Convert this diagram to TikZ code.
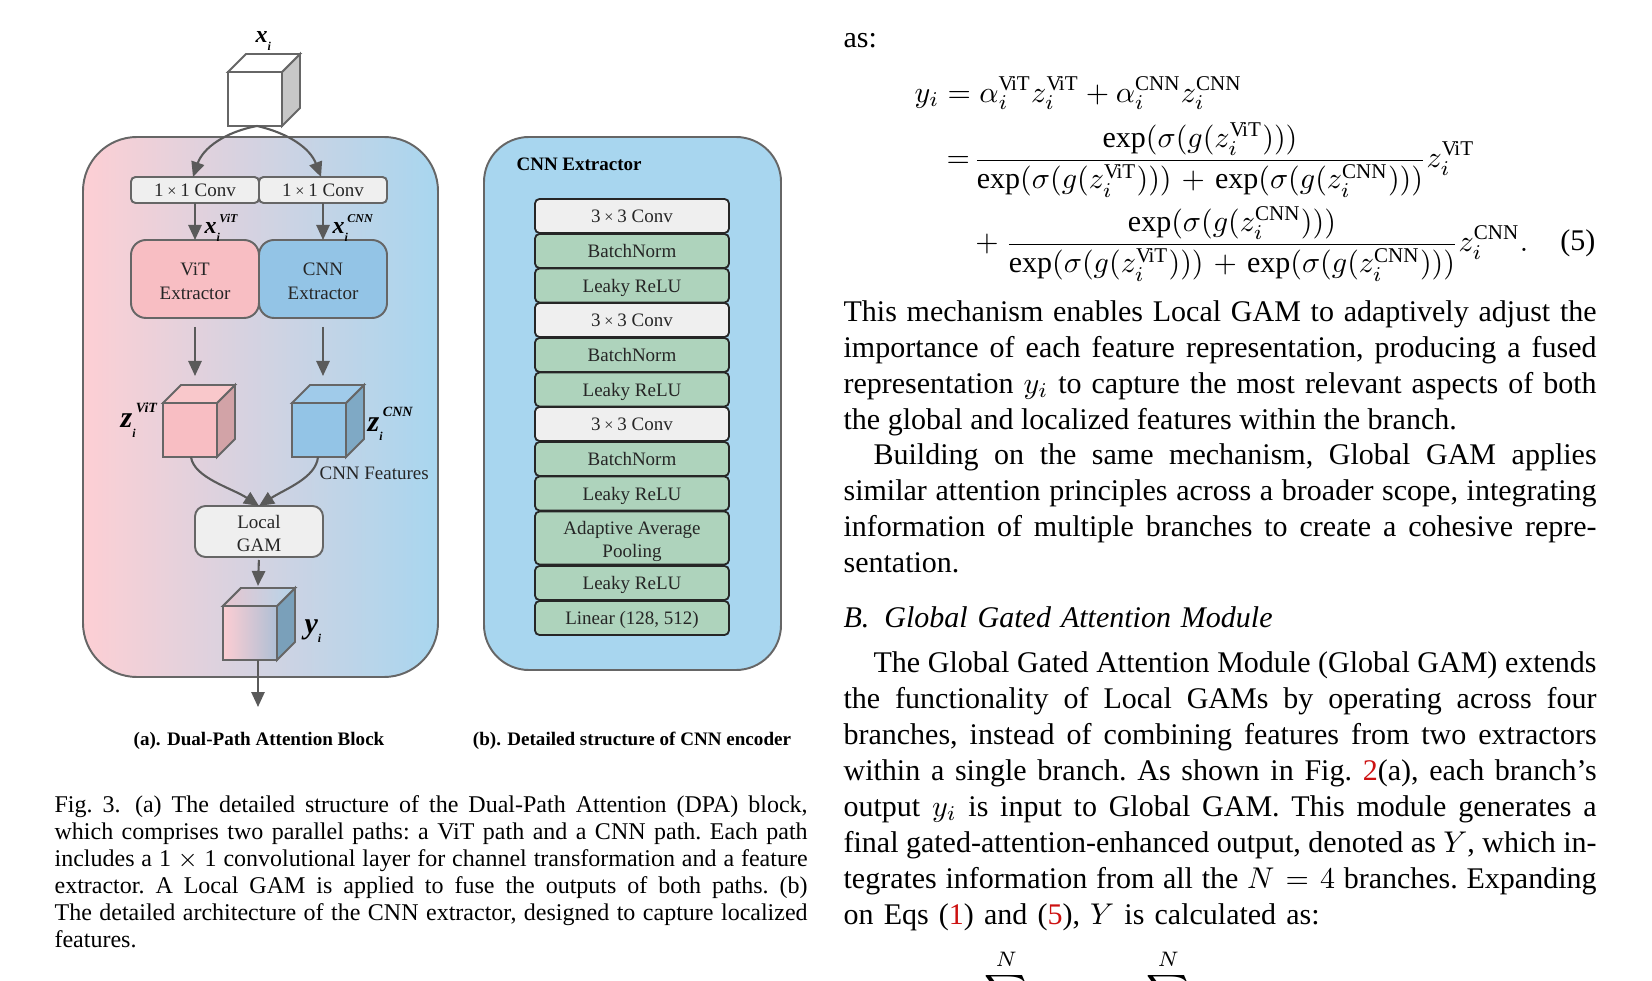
\documentclass[tikz,border=0pt]{standalone}
\usepackage{fontspec}
\usepackage{amsmath}
\setmainfont{Liberation Serif}
\usetikzlibrary{arrows.meta}

\definecolor{linegray}{HTML}{666666}
\definecolor{flowgray}{HTML}{5A5A5A}
\definecolor{panelpink}{HTML}{FDCFD4}
\definecolor{panelblue}{HTML}{A8D6EF}
\definecolor{vitpink}{HTML}{F8BEC3}
\definecolor{vitside}{HTML}{D2A3A7}
\definecolor{vittop}{HTML}{F9C8CB}
\definecolor{cnnblue}{HTML}{93C4E6}
\definecolor{cnnside}{HTML}{7FA9C5}
\definecolor{cnntop}{HTML}{A0CBEA}
\definecolor{fuseside}{HTML}{7AA0BA}
\definecolor{fuseright}{HTML}{AEBFD5}
\definecolor{fusetopl}{HTML}{E8C6CF}
\definecolor{fusetopr}{HTML}{B5D4EA}
\definecolor{boxgray}{HTML}{EFEFEF}
\definecolor{layergreen}{HTML}{AED3BC}
\definecolor{refred}{HTML}{CC1111}

\newcommand{\tm}{\kern.2em{\fontsize{5.4}{6}\selectfont ×}\kern.2em}
\newcommand{\boxstrut}{\rule[-1.2pt]{0pt}{7pt}}
% bold italic symbol with index and tag
\newcommand{\cubesym}[5]{{\bfseries\itshape\fontsize{#1}{#1}\selectfont #2\rlap{\raisebox{-.32em}{\fontsize{4}{4}\selectfont i}}\hspace{.12em}\raisebox{#5}{\fontsize{#3}{#3}\selectfont #4}}}
% side and top face of a cube, front face is a node
\newcommand{\cubefaces}[3]{
 \draw[cubeline, fill=#2] (#1.north east) -- ++(18,-18) -- ++(0,54) -- (#1.south east) -- cycle;
 \draw[cubeline, fill=#3] (#1.north west) -- ++(18,-18) -- ++(54,0) -- (#1.north east) -- cycle;
}
\newcommand{\vitsup}{\mathrm{V\kern-.9pt iT}}
\newcommand{\cnnsup}{\mathrm{CNN}}
\newcommand{\expsum}{\exp(\sigma(g(z_i^{\vitsup})))\mskip2mu+\mskip2mu\exp(\sigma(g(z_i^{\cnnsup})))}

\tikzset{
 x=0.33333pt, y=-0.33333pt,
 flow/.style={-{Triangle[length=5pt,width=4.4pt]}, line width=0.7pt, draw=flowgray},
 cubeline/.style={draw=linegray, line width=0.65pt},
 cubefront/.style={cubeline, minimum size=18pt, inner sep=0pt, outer sep=0pt},
 blocktext/.style={font=\fontsize{6.33}{8.2}\selectfont, text=black!85, align=center, execute at begin node=\boxstrut, execute at end node=\boxstrut},
 convbox/.style={blocktext, draw=linegray, line width=0.65pt, fill=boxgray, rounded corners=1.5pt, minimum width=128/3*1pt, minimum height=26/3*1pt, inner sep=0pt, outer sep=0pt},
 extractorbox/.style={blocktext, draw=linegray, line width=0.65pt, rounded corners=5pt, minimum width=128/3*1pt, minimum height=78/3*1pt, inner sep=0pt, outer sep=0pt},
 layerbox/.style={blocktext, draw=black!85, line width=0.6pt, rounded corners=1.5pt, minimum width=194/3*1pt, inner sep=0pt, outer sep=0pt},
 panelbox/.style={draw=linegray, line width=0.65pt},
 bodytext/.style={anchor=north west, text width=251pt, align=justify, inner sep=0pt, font=\fontsize{10}{12}\selectfont\frenchspacing},
 captiontext/.style={anchor=north west, text width=251pt, align=justify, inner sep=0pt, font=\fontsize{8}{9}\selectfont\frenchspacing},
 subcaption/.style={font=\fontsize{6.36}{7}\selectfont\bfseries, inner sep=0pt},
}

\begin{document}
\begin{tikzpicture}
 \useasboundingbox (0,0) rectangle (1652,981);

 % Panel a
 \node[panelbox, left color=panelpink, right color=panelblue, rounded corners=18pt, minimum width=355/3*1pt, minimum height=540/3*1pt, inner sep=0pt, outer sep=0pt] (panelblock) at (260.5,407) {};

 % Input cube
 \node[cubefront, fill=white] (cubeinput) at (255,99) {};
 \cubefaces{cubeinput}{black!22}{white}
 \node[inner sep=0pt] (labelinput) at (263,41) {\cubesym{8}{x}{4}{}{.45em}};

 % Conv and extractors
 \node[convbox] (convvit) at (195,190) {1\tm1 Conv};
 \node[convbox] (convcnn) at (323,190) {1\tm1 Conv};
 \node[extractorbox, fill=vitpink] (extractvit) at (195,279) {\rule{0pt}{7pt}ViT\\Extractor};
 \node[extractorbox, fill=cnnblue] (extractcnn) at (323,279) {\rule{0pt}{7pt}CNN\\Extractor};

 \coordinate (splitpoint) at (257,126);
 \draw[flow] (splitpoint) .. controls (225,132) and (203,148) .. ([xshift=-0.67pt]convvit.north);
 \draw[flow] (splitpoint) .. controls (288,133) and (310,148) .. ([xshift=-0.67pt]convcnn.north);
 \draw[flow] (convvit) -- (extractvit);
 \draw[flow] (convcnn) -- (extractcnn);
 \node[inner sep=0pt, anchor=west] (labelxvit) at (204,228) {\cubesym{8}{x}{4}{ViT}{.45em}};
 \node[inner sep=0pt, anchor=west] (labelxcnn) at (332,228) {\cubesym{8}{x}{4}{CNN}{.45em}};

 % Feature cubes
 \node[cubefront, fill=vitpink] (cubevit) at (190,430) {};
 \cubefaces{cubevit}{vitside}{vittop}
 \node[cubefront, fill=cnnblue] (cubecnn) at (319,430) {};
 \cubefaces{cubecnn}{cnnside}{cnntop}
 \coordinate (entryvit) at (195,385);
 \coordinate (entrycnn) at (323,385);
 \draw[flow, shorten <=3pt, shorten >=3pt] (extractvit.south) -- (entryvit);
 \draw[flow, shorten <=3pt, shorten >=3pt] (extractcnn.south) -- (entrycnn);
 \node[inner sep=0pt, anchor=west] (labelzvit) at (120,420) {\cubesym{10}{z}{4.7}{ViT}{.5em}};
 \node[inner sep=0pt, anchor=west] (labelzcnn) at (367,424) {\cubesym{10}{z}{4.7}{CNN}{.5em}};
 \node[blocktext, inner sep=0pt, anchor=west] (labelfeatures) at (319,472.5) {CNN Features};

 % Fusion
 \node[blocktext, draw=linegray, line width=0.65pt, fill=boxgray, rounded corners=3.5pt, minimum width=128/3*1pt, minimum height=51/3*1pt, inner sep=0pt, outer sep=0pt, font=\fontsize{6.33}{7.7}\selectfont] (localgam) at (259,531.5) {\rule{0pt}{6.8pt}Local\\GAM};
 \draw[flow] (191,457) .. controls (194,478) and (232,488) .. (localgam.north);
 \draw[flow] (318,457) .. controls (316,478) and (285,489) .. (localgam.north);

 \node[cubefront, left color=panelpink!90!vitpink, right color=fuseright] (cubefuse) at (250,633) {};
 \cubefaces{cubefuse}{fuseside}{cnntop}
 \shade[left color=fusetopl, right color=fusetopr, draw=linegray, line width=0.65pt] (cubefuse.north west) -- ++(18,-18) -- ++(54,0) -- (cubefuse.north east) -- cycle;
 \coordinate (fusetop) at (258,586);
 \coordinate (fuseout) at (258,707);
 \draw[flow, shorten <=1pt] (localgam.south) -- (fusetop);
 \draw[flow] (cubefuse.south -| fuseout) -- (fuseout);
 \node[inner sep=0pt, anchor=west] (labely) at (304,631) {\cubesym{10}{y}{4}{}{.45em}};
 \node[subcaption] (captionblock) at (259,741) {(a). Dual-Path Attention Block};

 % Panel b
 \node[panelbox, fill=panelblue, rounded corners=15pt, minimum width=297/3*1pt, minimum height=533/3*1pt, inner sep=0pt, outer sep=0pt] (panelcnn) at (632.5,403.5) {};
 \node[font=\fontsize{6.33}{8}\selectfont\bfseries, text=black, inner sep=0pt, anchor=west] (titlecnn) at (516,164) {CNN Extractor};

 \foreach \layername/\ycenter/\yheight/\layerfill/\layertext in {
   lconva/216/34/boxgray/{3\tm3 Conv},
   lnorma/251/34/layergreen/BatchNorm,
   lrelua/285.5/34/layergreen/Leaky ReLU,
   lconvb/320/34/boxgray/{3\tm3 Conv},
   lnormb/355/34/layergreen/BatchNorm,
   lrelub/389.5/34/layergreen/Leaky ReLU,
   lconvc/424/34/boxgray/{3\tm3 Conv},
   lnormc/459/34/layergreen/BatchNorm,
   lreluc/493.5/34/layergreen/Leaky ReLU,
   lpool/538/53/layergreen/{\rule{0pt}{6.8pt}Adaptive Average\\[-0.5pt]Pooling},
   lrelud/583/34/layergreen/Leaky ReLU,
   llinear/618/34/layergreen/{Linear (128, 512)}} {
  \node[layerbox, fill=\layerfill, minimum height=\yheight/3*1pt] (\layername) at (632,\ycenter) {\layertext};
 }
 \node[subcaption] (captioncnn) at (632,741) {(b). Detailed structure of CNN encoder};

 % Figure caption
 \node[captiontext] (figcaption) at (54,795) {Fig. 3.\hspace{.6em}(a) The detailed structure of the Dual-Path Attention (DPA) block,\linebreak which comprises two parallel paths: a ViT path and a CNN path. Each path\linebreak includes a 1 $\times$ 1 convolutional layer for channel transformation and a feature\linebreak extractor. A Local GAM is applied to fuse the outputs of both paths. (b)\linebreak The detailed architecture of the CNN extractor, designed to capture localized\linebreak features.};

 % Right column
 \node[bodytext] (bodyas) at (843,32.5) {as:};
 \node[anchor=west, inner sep=0pt] (eqfirst) at (914,93) {$\displaystyle y_i = \alpha_i^{\vitsup} z_i^{\vitsup} + \alpha_i^{\cnnsup} z_i^{\cnnsup}$};
 \node[anchor=west, inner sep=0pt] (eqsecond) at (946,160) {$\displaystyle =\mskip-3mu \frac{\exp(\sigma(g(z_i^{\vitsup})))}{\expsum} z_i^{\vitsup}$};
 \node[anchor=west, inner sep=0pt] (eqthird) at (968,244) {$\displaystyle {}+ \frac{\exp(\sigma(g(z_i^{\cnnsup})))}{\expsum} z_i^{\cnnsup}.$};
 \node[anchor=east, inner sep=0pt] (eqnumber) at (1596,243) {(5)};

 \node[bodytext] (bodyfirst) at (843,300) {This mechanism enables Local GAM to adaptively adjust the\linebreak importance of each feature representation, producing a fused\linebreak representation $y_i$ to capture the most relevant aspects of both\linebreak the global and localized features within the branch.};
 \node[bodytext] (bodysecond) at (843,443) {\hspace*{10pt}Building on the same mechanism, Global GAM applies\linebreak similar attention principles across a broader scope, integrating\linebreak information of multiple branches to create a cohesive repre-\linebreak sentation.};
 \node[bodytext] (bodyheading) at (843,606) {\makebox[143pt][s]{\textit{B.\hspace{.5em}Global Gated Attention Module}}};
 \node[bodytext] (bodythird) at (843,651) {\hspace*{10pt}The Global Gated Attention Module (Global GAM) extends\linebreak the functionality of Local GAMs by operating across four\linebreak branches, instead of combining features from two extractors\linebreak within a single branch. As shown in Fig. \textcolor{refred}{2}(a), each branch's\linebreak output $y_i$ is input to Global GAM. This module generates a\linebreak final gated-attention-enhanced output, denoted as $Y$, which in-\linebreak tegrates information from all the $N=4$ branches. Expanding\linebreak \makebox[158.7pt][s]{on Eqs (\textcolor{refred}{1}) and (\textcolor{refred}{5}), $Y$ is calculated as:}};

 % Equation cut by the page edge
 \begin{scope}
  \clip (0,0) rectangle (1652,981);
  \node[anchor=west, inner sep=0pt] (eqlast) at (920,996) {$\displaystyle Y=\sum_{i=1}^{N} \beta_i y_i \mskip13.2mu= \sum_{i=1}^{N} \beta_i$};
  \node[anchor=west, inner sep=0pt] (eqlastterms) at (1234,1001) {$\displaystyle \alpha_i^{\vitsup} z_i^{\vitsup} + \alpha_i^{\cnnsup} z_i^{\cnnsup}$};
 \end{scope}
\end{tikzpicture}
\end{document}
